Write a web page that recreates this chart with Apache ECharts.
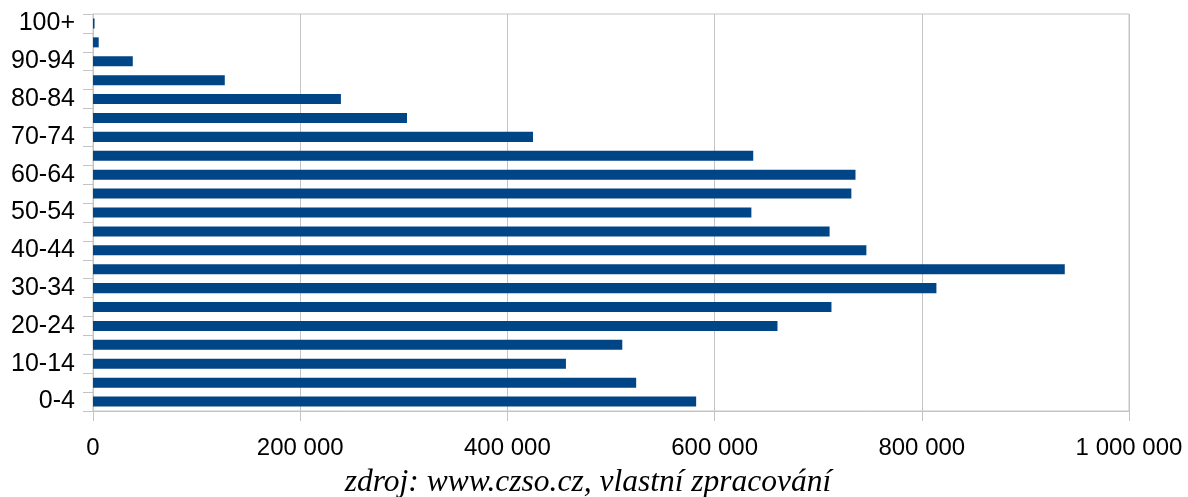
<!DOCTYPE html>
<html>
<head>
<meta charset="utf-8">
<script src="https://cdn.jsdelivr.net/npm/echarts@6/dist/echarts.min.js"></script>
<style>
html,body{margin:0;padding:0;background:#fff;}
#chart{width:1188px;height:497px;}
</style>
</head>
<body>
<div id="chart"></div>
<script>
const categories = ["0-4","5-9","10-14","15-19","20-24","25-29","30-34","35-39","40-44","45-49","50-54","55-59","60-64","65-69","70-74","75-79","80-84","85-89","90-94","95-99","100+"];
const values = [582200,524300,456500,510900,660700,712800,814100,938000,746500,711000,635500,732000,736000,637300,424700,303100,239300,127200,38400,5500,1500];
const xTicks = { min: 0, max: 1000000, interval: 200000 };
const caption = "zdroj: www.czso.cz, vlastní zpracování";

function fmt(v){ return String(v).replace(/\B(?=(\d{3})+(?!\d))/g, ' '); }

const chart = echarts.init(document.getElementById('chart'), null, {renderer:'canvas'});
chart.setOption({
  animation:false,
  backgroundColor:'#ffffff',
  grid:{left:93,right:59,top:14,bottom:86,show:true,borderColor:'#c4c4c4',borderWidth:1,containLabel:false},
  xAxis:{
    type:'value', min:xTicks.min, max:xTicks.max, interval:xTicks.interval,
    axisLine:{show:true,lineStyle:{color:'#c4c4c4',width:1}},
    axisTick:{show:true,length:10,lineStyle:{color:'#c4c4c4'}},
    splitLine:{show:true,lineStyle:{color:'#c4c4c4',width:1}},
    axisLabel:{color:'#000',fontFamily:'Liberation Sans',fontSize:24,margin:25,formatter:fmt}
  },
  yAxis:{
    type:'category', data:categories,
    axisLine:{show:true,lineStyle:{color:'#c4c4c4',width:1}},
    axisTick:{show:true,length:10,interval:0,lineStyle:{color:'#c4c4c4'}},
    splitLine:{show:false},
    axisLabel:{interval:1,color:'#000',fontFamily:'Liberation Sans',fontSize:25,margin:18}
  },
  series:[{
    type:'bar', data:values, barCategoryGap:'47%',
    itemStyle:{color:'#004586'}
  }],
  title:{
    text:caption, left:583, textAlign:'center', top:462,
    textStyle:{fontFamily:'Liberation Serif',fontStyle:'italic',fontWeight:'normal',fontSize:31.5,color:'#000'}
  }
});
</script>
</body>
</html>
